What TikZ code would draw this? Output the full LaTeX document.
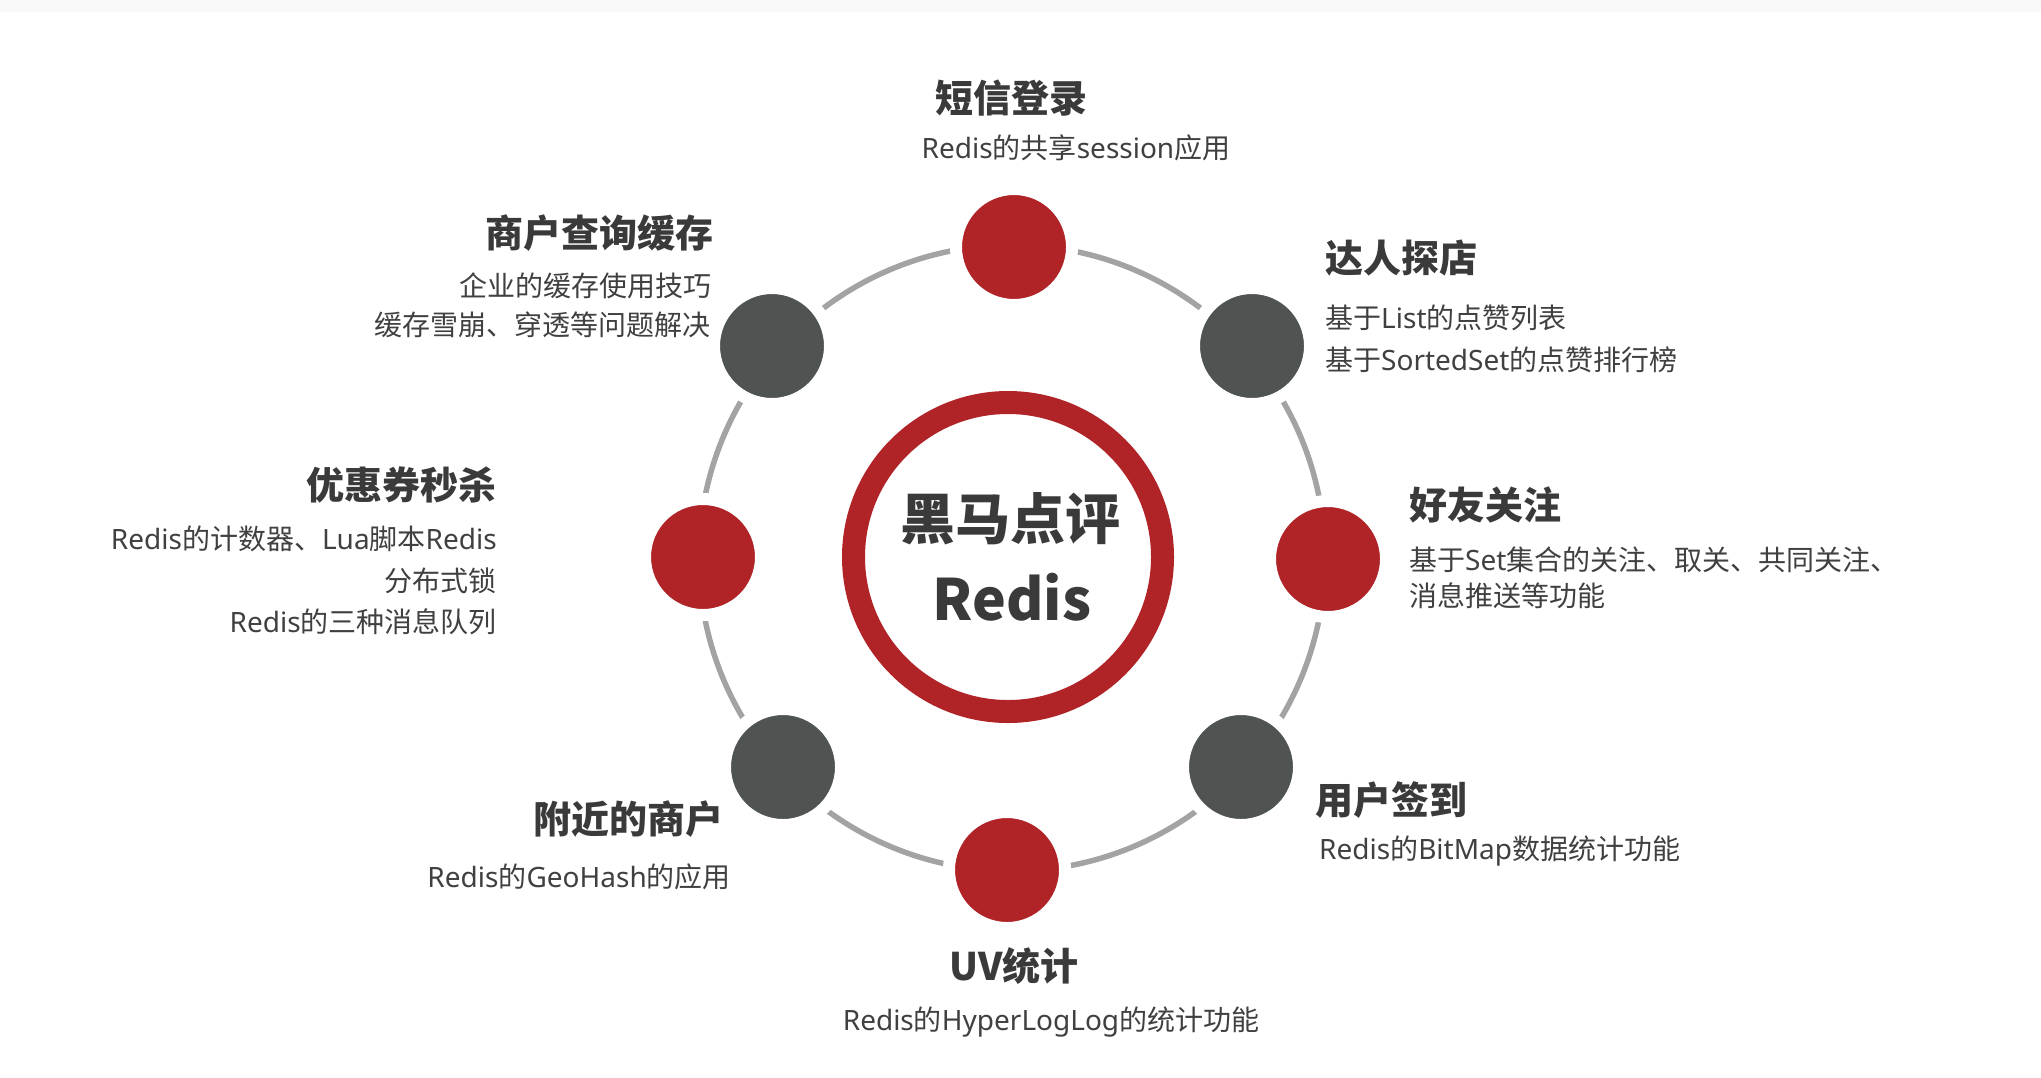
\documentclass[tikz,border=0pt]{standalone}
\usepackage{fontspec}
\setmainfont{Noto Sans CJK SC}
\newfontfamily\enfont{Noto Sans}
\IfFontExistsTF{NotoSans-Bold.ttf}{\newfontfamily\enbold{NotoSans-Bold.ttf}}{\newcommand\enbold{\bfseries}}
\newcommand\en[1]{{\enfont #1}}
\newcommand\enb[1]{{\enbold #1}}
\definecolor{hmred}{RGB}{176,36,40}
\definecolor{hmdark}{RGB}{79,83,82}
\definecolor{hmring}{RGB}{163,163,163}
\definecolor{hmhead}{RGB}{58,58,58}
\definecolor{hmbody}{RGB}{64,64,64}
\tikzset{
  dot/.style={circle, inner sep=0pt, minimum size=116pt, line width=12pt, draw=white, fill=#1},
  head/.style={inner sep=0pt, text=hmhead, font=\fontsize{38}{46}\selectfont\bfseries},
  body/.style={inner sep=0pt, text=hmbody, font=\fontsize{28}{38}\selectfont},
  ringline/.style={draw=hmring, line width=5.5pt},
}
\begin{document}
\begin{tikzpicture}[x=1pt,y=-1pt]
\fill[white] (0,0) rectangle (2041,1077);
\useasboundingbox (0,0) rectangle (2041,1077);
\fill[black!2.5] (0,0) rectangle (2041,12);

\coordinate (O) at (1012,558);
\draw[ringline] (O) circle[radius=313];

% small circles
\node[dot=hmred]  (nTop) at (1014,247) {};
\node[dot=hmdark] (nTR)  at (1252,346) {};
\node[dot=hmred]  (nR)   at (1328,559) {};
\node[dot=hmdark] (nBR)  at (1241,767) {};
\node[dot=hmred]  (nB)   at (1007,870) {};
\node[dot=hmdark] (nBL)  at (783,767) {};
\node[dot=hmred]  (nL)   at (703,557) {};
\node[dot=hmdark] (nTL)  at (772,346) {};

% center
\node[circle, draw=hmred, line width=23pt, minimum size=309pt, inner sep=0pt] (core) at (1008,557) {};
\node[anchor=base, inner sep=0pt, text=hmhead, font=\fontsize{55}{60}\selectfont\bfseries] (coreA) at (1010,539) {黑马点评};
\node[anchor=base, inner sep=0pt, text=hmhead, font=\fontsize{57}{60}\selectfont\bfseries] (coreB) at (1012,620) {\enb{Redis}};

% top
\node[head, anchor=base] (tTop) at (1011,112.5) {短信登录};
\node[body, anchor=base] (tTop1) at (1076,158.6) {\en{Redis}的共享\en{session}应用};

% top right
\node[head, anchor=base west] (tTR) at (1325,272.4) {达人探店};
\node[body, anchor=base west] (tTR1) at (1325,328.6) {基于\en{List}的点赞列表};
\node[body, anchor=base west] (tTR2) at (1325,370.6) {基于\en{SortedSet}的点赞排行榜};

% right
\node[head, anchor=base west] (tR) at (1409,519.4) {好友关注};
\node[body, anchor=base west] (tR1) at (1409,570.6) {基于\en{Set}集合的关注、取关、共同关注、};
\node[body, anchor=base west] (tR2) at (1409,606.6) {消息推送等功能};

% bottom right
\node[head, anchor=base west] (tBR) at (1315,814.4) {用户签到};
\node[body, anchor=base west] (tBR1) at (1319,859.6) {\en{Redis}的\en{BitMap}数据统计功能};

% bottom
\node[head, anchor=base] (tB) at (1014,980.4) {\enb{UV}统计};
\node[body, anchor=base] (tB1) at (1051,1030.6) {\en{Redis}的\en{HyperLogLog}的统计功能};

% bottom left
\node[head, anchor=base east] (tBL) at (724,833.4) {附近的商户};
\node[body, anchor=base east] (tBL1) at (731,887.6) {\en{Redis}的\en{GeoHash}的应用};

% left
\node[head, anchor=base east] (tL) at (497,499.4) {优惠券秒杀};
\node[body, anchor=base east] (tL1) at (497,549.6) {\en{Redis}的计数器、\en{Lua}脚本\en{Redis}};
\node[body, anchor=base east] (tL2) at (497,591.6) {分布式锁};
\node[body, anchor=base east] (tL3) at (497,632.6) {\en{Redis}的三种消息队列};

% top left
\node[head, anchor=base east] (tTL) at (714,247.4) {商户查询缓存};
\node[body, anchor=base east] (tTL1) at (712,296.6) {企业的缓存使用技巧};
\node[body, anchor=base east] (tTL2) at (711,335.6) {缓存雪崩、穿透等问题解决};
\end{tikzpicture}
\end{document}
